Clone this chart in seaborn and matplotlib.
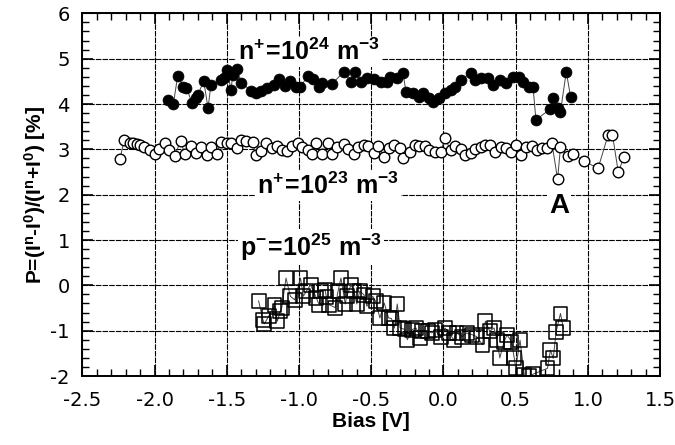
import numpy as np
import pandas as pd
import matplotlib
matplotlib.use("Agg")
import matplotlib.pyplot as plt
from matplotlib.ticker import MultipleLocator
import seaborn as sns

# ---- data ----
n24_x = [-1.91, -1.87, -1.84, -1.80, -1.78, -1.74, -1.71, -1.70, -1.66, -1.63, -1.61, -1.54, -1.52,
         -1.50, -1.47, -1.46, -1.43, -1.40, -1.33, -1.30, -1.26, -1.22, -1.17, -1.14, -1.10, -1.06,
         -1.02, -0.99, -0.94, -0.90, -0.86, -0.84, -0.77, -0.69, -0.64, -0.61, -0.57, -0.53, -0.48,
         -0.43, -0.39, -0.37, -0.32, -0.28, -0.26, -0.21, -0.17, -0.14, -0.10, -0.07, -0.03, 0.01,
         0.05, 0.08, 0.12, 0.19, 0.22, 0.26, 0.31, 0.34, 0.39, 0.43, 0.48, 0.52, 0.55, 0.59, 0.62,
         0.64, 0.74, 0.76, 0.79, 0.81, 0.85, 0.88]
n24_y = [4.09, 4.00, 4.62, 4.38, 4.36, 4.02, 4.13, 4.20, 4.51, 3.91, 4.42, 4.53, 4.58,
         4.75, 4.31, 4.64, 4.77, 4.47, 4.29, 4.25, 4.29, 4.36, 4.42, 4.55, 4.40, 4.51,
         4.38, 4.38, 4.62, 4.55, 4.38, 4.47, 4.45, 4.71, 4.49, 4.71, 4.49, 4.58, 4.55,
         4.49, 4.49, 4.60, 4.58, 4.69, 4.27, 4.25, 4.16, 4.25, 4.13, 4.05, 4.13, 4.25,
         4.31, 4.38, 4.53, 4.69, 4.53, 4.58, 4.58, 4.42, 4.53, 4.47, 4.60, 4.60, 4.49, 4.38, 4.38,
         3.65, 3.89, 4.13, 3.91, 3.83, 4.71, 4.16]

n23_x = [-2.24, -2.21, -2.17, -2.15, -2.12, -2.10, -2.07, -2.03, -2.00, -1.97, -1.93, -1.90, -1.86,
         -1.82, -1.79, -1.75, -1.71, -1.68, -1.64, -1.61, -1.57, -1.54, -1.50, -1.47, -1.43, -1.40,
         -1.37, -1.32, -1.30, -1.26, -1.23, -1.19, -1.15, -1.12, -1.08, -1.05, -1.01, -0.98, -0.94,
         -0.91, -0.88, -0.84, -0.80, -0.77, -0.74, -0.69, -0.66, -0.62, -0.59, -0.55, -0.52, -0.48,
         -0.45, -0.41, -0.38, -0.34, -0.30, -0.28, -0.23, -0.20, -0.17, -0.13, -0.10, -0.06, -0.02,
         0.01, 0.05, 0.08, 0.12, 0.15, 0.19, 0.22, 0.26, 0.29, 0.32, 0.36, 0.40, 0.43, 0.47, 0.50,
         0.54, 0.57, 0.61, 0.65, 0.68, 0.72, 0.75, 0.79, 0.81, 0.86, 0.90, 0.97, 1.07, 1.14, 1.17,
         1.21, 1.25]
n23_y = [2.79, 3.20, 3.15, 3.13, 3.11, 3.10, 3.05, 2.98, 2.89, 3.00, 3.13, 2.98, 2.85,
         3.19, 2.89, 3.08, 2.92, 3.05, 2.87, 3.05, 2.89, 3.17, 3.13, 3.13, 3.02, 3.20,
         3.19, 3.17, 2.87, 2.96, 3.13, 3.02, 3.08, 2.98, 2.96, 3.08, 3.15, 3.05, 2.98,
         2.89, 3.13, 2.89, 3.13, 2.89, 3.05, 3.11, 3.00, 2.89, 3.05, 3.10, 3.08, 2.92,
         3.08, 2.83, 3.04, 3.09, 3.02, 2.80, 2.94, 3.10, 3.08, 3.08, 2.98, 2.94, 2.94,
         3.24, 2.98, 3.08, 3.00, 2.88, 2.92, 3.00, 3.05, 3.10, 3.10, 2.94, 3.05, 3.03, 2.94, 3.09,
         2.88, 3.05, 3.08, 2.98, 3.03, 3.03, 3.15, 2.34, 3.05, 2.85, 2.90, 2.75, 2.58, 3.32, 3.32,
         2.50, 2.83]

p25_x = [-1.28, -1.25, -1.24, -1.21, -1.17, -1.15, -1.13, -1.12, -1.09, -1.06, -1.03, -0.99, -0.97,
         -0.95, -0.92, -0.88, -0.86, -0.85, -0.82, -0.81, -0.79, -0.75, -0.73, -0.71, -0.68, -0.67,
         -0.64, -0.62, -0.60, -0.58, -0.55, -0.53, -0.49, -0.47, -0.44, -0.41, -0.38, -0.36, -0.34,
         -0.32, -0.30, -0.27, -0.25, -0.22, -0.19, -0.16, -0.15, -0.11, -0.08, -0.06, -0.02, 0.01,
         0.04, 0.07, 0.09, 0.13, 0.16, 0.20, 0.23, 0.27, 0.29, 0.32, 0.35, 0.37, 0.39, 0.42, 0.44,
         0.47, 0.49, 0.50, 0.53, 0.56, 0.59, 0.62, 0.72, 0.74, 0.76, 0.78, 0.81, 0.83]
p25_y = [-0.34, -0.76, -0.85, -0.68, -0.44, -0.79, -0.57, -0.50, 0.16, -0.24, -0.32, 0.16, -0.24,
         -0.13, 0.01, -0.28, -0.43, -0.13, -0.10, -0.26, -0.43, -0.49, -0.13, 0.16, -0.41, -0.24,
         0.01, -0.12, -0.41, -0.13, -0.21, -0.46, -0.24, -0.35, -0.72, -0.39, -0.72, -0.73, -0.94,
         -0.41, -0.94, -0.97, -1.20, -0.98, -0.94, -1.16, -1.01, -1.01, -1.05, -0.98, -1.13, -0.94,
         -1.05, -1.20, -1.05, -1.13, -1.05, -1.09, -1.13, -1.31, -0.79, -1.01, -0.94, -1.20, -1.60,
         -1.24, -1.09, -1.24, -1.60, -1.83, -1.21, -1.98, -2.00, -1.96, -1.83, -1.43, -1.61, -1.02,
         -0.62, -0.95]

x_ticks = [-2.5, -2.0, -1.5, -1.0, -0.5, 0.0, 0.5, 1.0, 1.5]
y_ticks = [-2, -1, 0, 1, 2, 3, 4, 5, 6]

# ---- figure ----
sns.set_theme(style="ticks")
plt.rcParams["font.family"] = ["DejaVu Sans"]
plt.rcParams["text.color"] = "black"
plt.rcParams["axes.labelcolor"] = "black"
plt.rcParams["xtick.color"] = "black"
plt.rcParams["ytick.color"] = "black"
plt.rcParams["mathtext.fontset"] = "custom"
plt.rcParams["mathtext.rm"] = "Liberation Sans:bold"
plt.rcParams["mathtext.bf"] = "Liberation Sans:bold"
plt.rcParams["mathtext.it"] = "Liberation Sans:bold"
plt.rcParams["mathtext.default"] = "bf"

fig = plt.figure(figsize=(6.75, 4.45), dpi=100)
ax = fig.add_axes([0.122, 0.155, 0.856, 0.815])

df24 = pd.DataFrame({"x": n24_x, "y": n24_y})
df23 = pd.DataFrame({"x": n23_x, "y": n23_y})
df25 = pd.DataFrame({"x": p25_x, "y": p25_y})

for df in (df24, df23, df25):
    sns.lineplot(data=df, x="x", y="y", ax=ax, sort=False, estimator=None,
                 color="#444444", lw=0.7, zorder=2)

sns.scatterplot(data=df24, x="x", y="y", ax=ax, marker="o", s=62, color="black",
                edgecolor="black", linewidth=0.5, zorder=4)
sns.scatterplot(data=df23, x="x", y="y", ax=ax, marker="o", s=58, facecolor="white",
                edgecolor="black", linewidth=1.0, zorder=4)
sns.scatterplot(data=df25, x="x", y="y", ax=ax, marker="s", s=100, facecolor="none",
                edgecolor="black", linewidth=1.1, zorder=4)

ax.set_xlim(-2.5, 1.5)
ax.set_ylim(-2, 6)
ax.set_xticks(x_ticks)
ax.set_yticks(y_ticks)
ax.set_xticklabels([f"{v:.1f}" for v in x_ticks])
ax.set_yticklabels([str(v) for v in y_ticks])
ax.xaxis.set_minor_locator(MultipleLocator(0.1))
ax.yaxis.set_minor_locator(MultipleLocator(0.2))
ax.tick_params(which="both", direction="in", top=True, right=True, colors="black",
               labelsize=14)
ax.tick_params(which="major", length=8, width=1.2)
ax.tick_params(which="minor", length=5, width=1.0)
ax.tick_params(axis="x", pad=11)
ax.tick_params(axis="y", pad=9)
ax.grid(True, which="major", color="black", lw=0.8, ls=(0, (5, 1)))
ax.set_axisbelow(True)
for sp in ax.spines.values():
    sp.set_linewidth(1.4)
    sp.set_color("black")

ax.set_xlabel("Bias [V]", fontsize=15, fontweight="bold", family="Liberation Sans",
              labelpad=1, color="black")
ax.set_ylabel(r"P=(I$^{n}$-I$^{0}$)/(I$^{n}$+I$^{0}$) [%]", fontsize=15, fontweight="bold",
              family="Liberation Sans", labelpad=2, color="black")

box = dict(facecolor="white", edgecolor="none", pad=1.5)
ax.text(-0.93, 5.15, r"$\mathbf{n^{+}\!=\!10^{24}\ m^{-3}}$", fontsize=18, ha="center", va="center",
        bbox=box, zorder=3, color="black")
ax.text(-0.80, 2.2, r"$\mathbf{n^{+}\!=\!10^{23}\ m^{-3}}$", fontsize=18, ha="center", va="center",
        bbox=box, zorder=3, color="black")
ax.text(-0.92, 0.85, r"$\mathbf{p^{-}\!=\!10^{25}\ m^{-3}}$", fontsize=18, ha="center", va="center",
        bbox=box, zorder=3, color="black")
ax.text(0.80, 1.74, "A", fontsize=20, fontweight="bold", family="Liberation Sans",
        ha="center", va="center", bbox=box, zorder=3, color="black")

fig.savefig("out.png", dpi=100)
